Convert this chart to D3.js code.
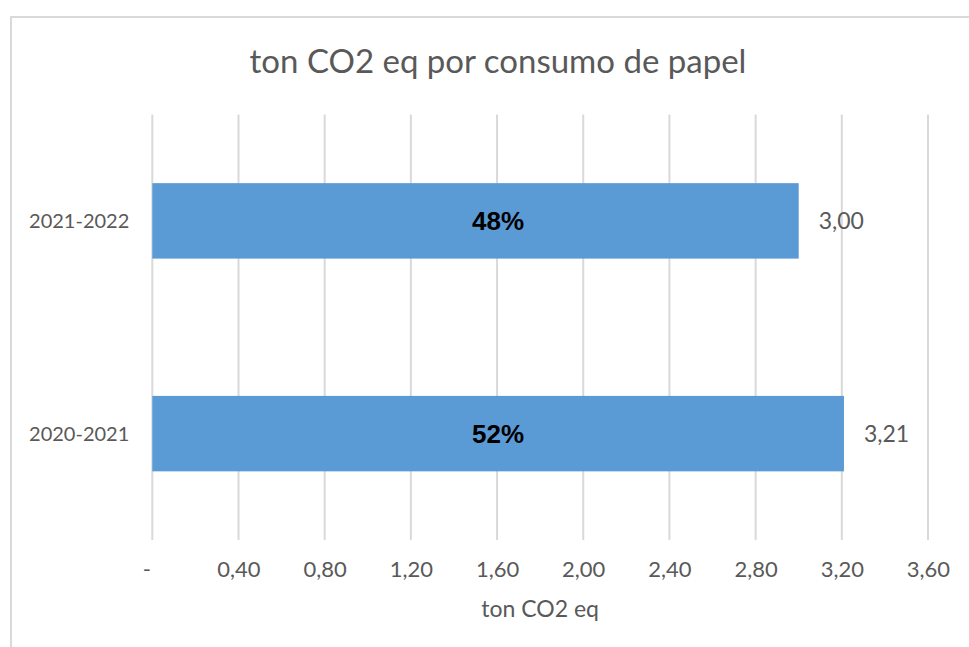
<!DOCTYPE html>
<html>
<head>
<meta charset="utf-8">
<script src="https://cdn.jsdelivr.net/npm/d3@7"></script>
<style>
  html, body { margin: 0; padding: 0; background: #fff; overflow: hidden; }
</style>
</head>
<body>
<div id="chart"></div>
<script>
var categories = ["2021-2022", "2020-2021"]
var values = [3.00, 3.21]
var shares = ["48%", "52%"]
var ticks = [0, 0.4, 0.8, 1.2, 1.6, 2.0, 2.4, 2.8, 3.2, 3.6]
var title = "ton CO2 eq por consumo de papel"
var axisTitle = "ton CO2 eq"

var width = 969, height = 647
var frame = { left: 11, top: 17, right: 985 }
var margin = { top: 114.5, right: 41, bottom: 107, left: 152.3 }
var gapWidth = 1.82
var grey = "#595959"
var font = "Lato, 'Open Sans', sans-serif"

var svg = d3.select("#chart").append("svg")
    .attr("width", width)
    .attr("height", height)

svg.append("rect")
    .attr("x", frame.left)
    .attr("y", frame.top)
    .attr("width", frame.right - frame.left)
    .attr("height", height)
    .attr("fill", "#fff")
    .attr("stroke", "#d9d9d9")
    .attr("stroke-width", 2)

var x = d3.scaleLinear()
    .domain([0, 3.6])
    .range([margin.left, width - margin.right])

var y = d3.scaleBand()
    .domain(categories)
    .range([margin.top, height - margin.bottom])
    .padding(0)

var barH = y.bandwidth() / (1 + gapWidth)
var centerX = (frame.left + frame.right) / 2

svg.append("text")
    .attr("x", centerX)
    .attr("y", 73)
    .attr("text-anchor", "middle")
    .style("font", "33px " + font)
    .attr("fill", grey)
    .text(title)

// gridlines
svg.append("g")
    .selectAll("line")
    .data(ticks)
    .enter().append("line")
    .attr("x1", d => x(d))
    .attr("x2", d => x(d))
    .attr("y1", margin.top)
    .attr("y2", height - margin.bottom)
    .attr("stroke", "#d9d9d9")
    .attr("stroke-width", 2)

var fmt = d => d === 0 ? "-" : d.toFixed(2).replace(".", ",")

var xAxis = g => g
    .attr("transform", `translate(0, ${height - margin.bottom})`)
    .call(d3.axisBottom(x).tickValues(ticks).tickFormat(fmt).tickSize(0).tickPadding(0))
    .call(g => g.select(".domain").remove())
    .call(g => g.selectAll("text")
        .attr("y", 37)
        .attr("dy", 0)
        .attr("dx", d => d === 0 ? -6 : 0)
        .attr("fill", grey)
        .style("font", "22px " + font))

svg.append("g").call(xAxis)

var yAxis = g => g
    .attr("transform", `translate(${margin.left}, 0)`)
    .call(d3.axisLeft(y).tickSize(0).tickPadding(23))
    .call(g => g.select(".domain").remove())
    .call(g => g.selectAll("text")
        .attr("dy", "0.35em")
        .attr("fill", grey)
        .style("font", "20px " + font))

svg.append("g").call(yAxis)

var data = categories.map((c, i) => ({ cat: c, value: values[i], share: shares[i] }))

svg.append("g")
    .selectAll("rect")
    .data(data)
    .enter().append("rect")
    .attr("x", x(0))
    .attr("y", d => y(d.cat) + (y.bandwidth() - barH) / 2)
    .attr("width", d => x(d.value) - x(0))
    .attr("height", barH)
    .attr("fill", "#5b9bd5")

svg.append("g")
    .selectAll("text")
    .data(data)
    .enter().append("text")
    .attr("x", d => x(d.value) + 20)
    .attr("y", d => y(d.cat) + y.bandwidth() / 2)
    .attr("dy", "0.35em")
    .attr("fill", grey)
    .style("font", "23px " + font)
    .text(d => d.value.toFixed(2).replace(".", ","))

svg.append("g")
    .selectAll("text")
    .data(data)
    .enter().append("text")
    .attr("x", centerX)
    .attr("y", d => y(d.cat) + y.bandwidth() / 2)
    .attr("dy", "0.35em")
    .attr("text-anchor", "middle")
    .attr("fill", "#000")
    .style("font", "bold 26px 'Liberation Sans', Arial, sans-serif")
    .text(d => d.share)

svg.append("text")
    .attr("x", (x.range()[0] + x.range()[1]) / 2)
    .attr("y", 617)
    .attr("text-anchor", "middle")
    .attr("fill", grey)
    .style("font", "23px " + font)
    .text(axisTitle)
</script>
</body>
</html>
